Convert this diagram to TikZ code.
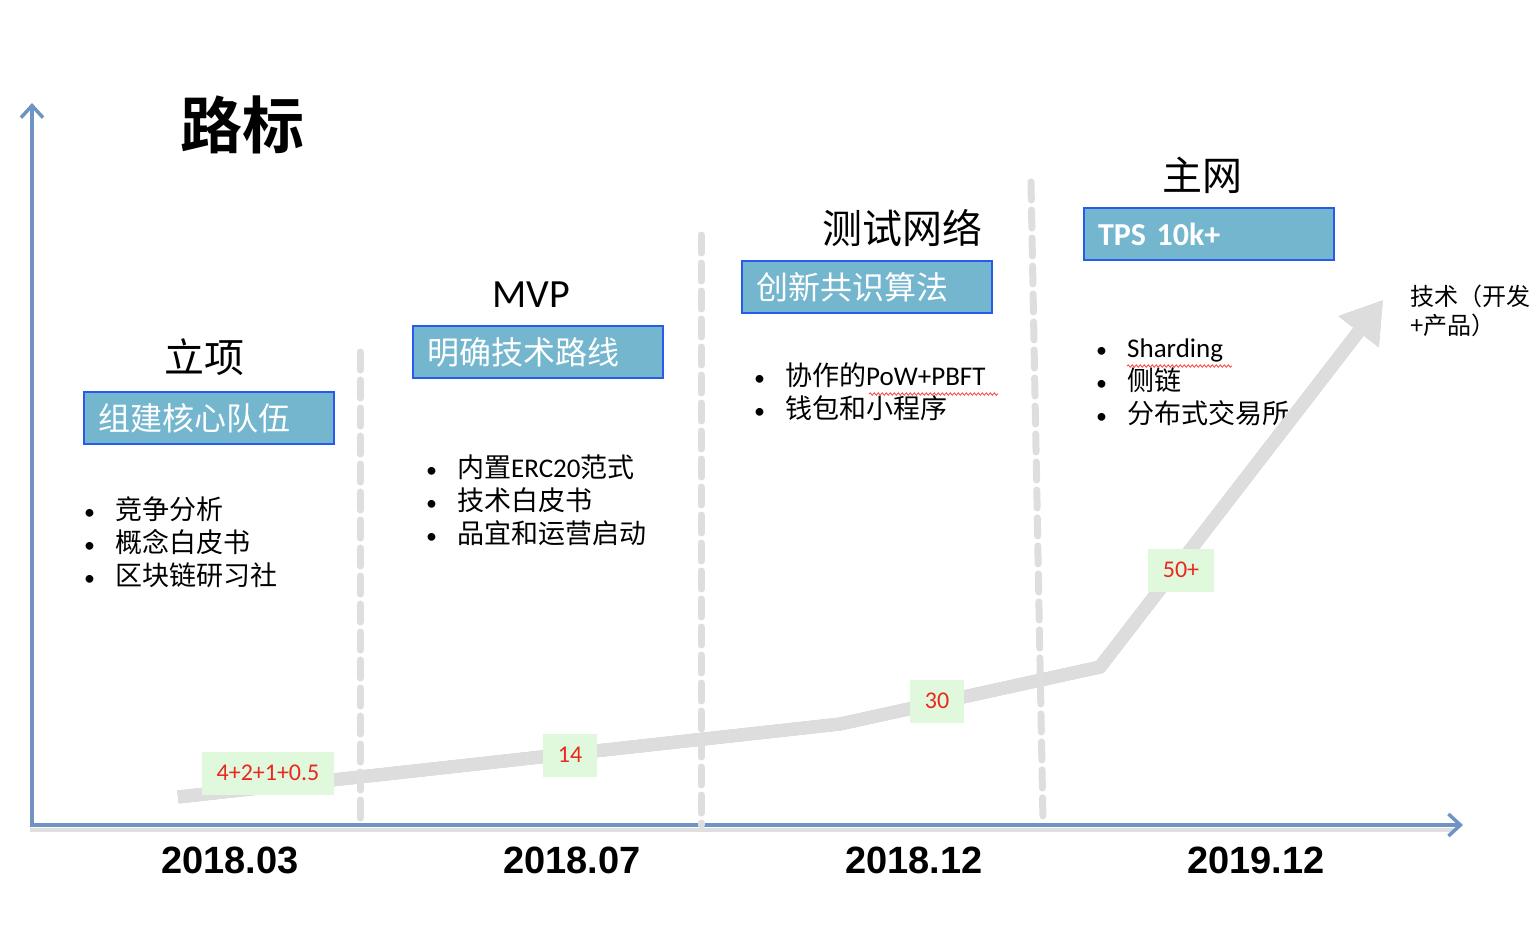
\documentclass[tikz,border=0pt]{standalone}
\usepackage{fontspec}
\setmainfont{Carlito}
\newfontfamily\cjk{Noto Sans CJK SC}[BoldFont={Noto Sans CJK SC Bold}]
\newfontfamily\datefont{Liberation Sans}
\usetikzlibrary{arrows.meta, positioning, decorations.pathmorphing}

\definecolor{axisblue}{RGB}{111,147,196}
\definecolor{boxfill}{RGB}{116,182,206}
\definecolor{boxline}{RGB}{40,90,235}
\definecolor{tagfill}{RGB}{224,248,220}
\definecolor{tagred}{RGB}{235,40,30}
\definecolor{trendgray}{RGB}{221,221,221}
\definecolor{sepgray}{RGB}{222,222,222}

\newcommand{\itm}[1]{\makebox[31pt][l]{\rmfamily\fontsize{22}{22}\selectfont\textbullet}#1}

\begin{document}
\begin{tikzpicture}[x=1pt, y=-1pt,
    stage/.style={inner sep=0pt, font=\cjk\fontsize{40}{44}\selectfont},
    goal/.style={rectangle, draw=boxline, line width=2pt, fill=boxfill, anchor=north west,
        minimum width=250pt, minimum height=52pt, text width=222pt, inner xsep=14pt, inner ysep=0pt,
        align=left, text=white, font=\cjk\fontsize{32}{36}\selectfont},
    items/.style={anchor=west, align=left, inner sep=0pt, font=\cjk\fontsize{27}{33}\selectfont},
    tag/.style={rectangle, fill=tagfill, text=tagred, inner xsep=15pt, inner ysep=0pt,
        minimum height=43pt, font=\fontsize{24}{26}\selectfont},
    date/.style={inner sep=0pt, font=\datefont\bfseries\fontsize{38}{40}\selectfont},
    sepline/.style={draw=sepgray, line width=7pt, line cap=round, dash pattern=on 18pt off 10pt},
    axis/.style={draw=axisblue, line width=3.5pt, -{Straight Barb[length=12pt, width=22pt]}},
    trendline/.style={draw=trendgray, line width=13pt, -{Triangle[length=40pt, width=48pt]}},
    wavy/.style={draw=red!75, line width=0.8pt, decorate, decoration={snake, amplitude=1.2pt, segment length=4pt}}
]
    \useasboundingbox (0,0) rectangle (1538,938);

    % axes
    \coordinate (o) at (32,825);
    \coordinate (ytop) at (32,103);
    \coordinate (xend) at (1463,825);
    \draw[gray!25, line width=4pt] (30,830) -- (1455,830);
    \draw[axis] (o) -- (ytop);
    \draw[axis] (30,825) -- (xend);

    % title
    \node[inner sep=0pt, font=\cjk\bfseries\fontsize{62}{66}\selectfont] (title) at (242,125) {路标};

    % stages
    \node[stage] (s1) at (204,357) {立项};
    \node[stage, font=\rmfamily\fontsize{40}{44}\selectfont] (s2) at (531,295) {MVP};
    \node[stage] (s3) at (902,228) {测试网络};
    \node[stage] (s4) at (1202,175) {主网};

    % goals
    \node[goal] (g1) at (83,391) {组建核心队伍};
    \node[goal] (g2) at (412,325) {明确技术路线};
    \node[goal] (g3) at (741,260) {创新共识算法};
    \node[goal, font=\rmfamily\bfseries\fontsize{32}{36}\selectfont] (g4) at (1083,207) {TPS 10k+};

    % items
    \node[items] (l1) at (84,542) {\itm{竞争分析}\\\itm{概念白皮书}\\\itm{区块链研习社}};
    \node[items] (l2) at (426,500) {\itm{内置{\rmfamily ERC20}范式}\\\itm{技术白皮书}\\\itm{品宜和运营启动}};
    \node[items] (l3) at (754,392) {\itm{协作的{\rmfamily PoW+PBFT}}\\\itm{钱包和小程序}};
    \node[items] (l4) at (1096,382) {\itm{{\rmfamily Sharding}}\\\itm{侧链}\\\itm{分布式交易所}};
    \draw[wavy] (869,394) -- (998,394);
    \draw[wavy] (1127,366) -- (1232,366);

    % note
    \node[anchor=west, align=left, inner sep=0pt, font=\cjk\fontsize{24}{29}\selectfont] (note) at (1410,311) {技术（开发\\+产品）};

    % trend
    \coordinate (t0) at (178,797);
    \coordinate (t1) at (840,724);
    \coordinate (t2) at (1100,667);
    \coordinate (t3) at (1383,300);
    \draw[trendline, draw=gray!45, xshift=1.5pt, yshift=-2.5pt] (t0) -- (t1) -- (t2) -- (t3);
    \draw[trendline] (t0) -- (t1) -- (t2) -- (t3);

    % separators
    \draw[sepline] (360,352) -- (360,822);
    \draw[sepline] (701,235) -- (701,825);
    \draw[sepline] (1031,182) -- (1043,822);

    % tags
    \node[tag] (n1) at (268,773) {4+2+1+0.5};
    \node[tag] (n2) at (570,755) {14};
    \node[tag] (n3) at (937,701) {30};
    \node[tag] (n4) at (1181,570) {50+};

    % dates
    \node[date] (d1) at (230,860) {2018.03};
    \node[date] (d2) at (572,860) {2018.07};
    \node[date] (d3) at (914,860) {2018.12};
    \node[date] (d4) at (1256,860) {2019.12};
\end{tikzpicture}
\end{document}
